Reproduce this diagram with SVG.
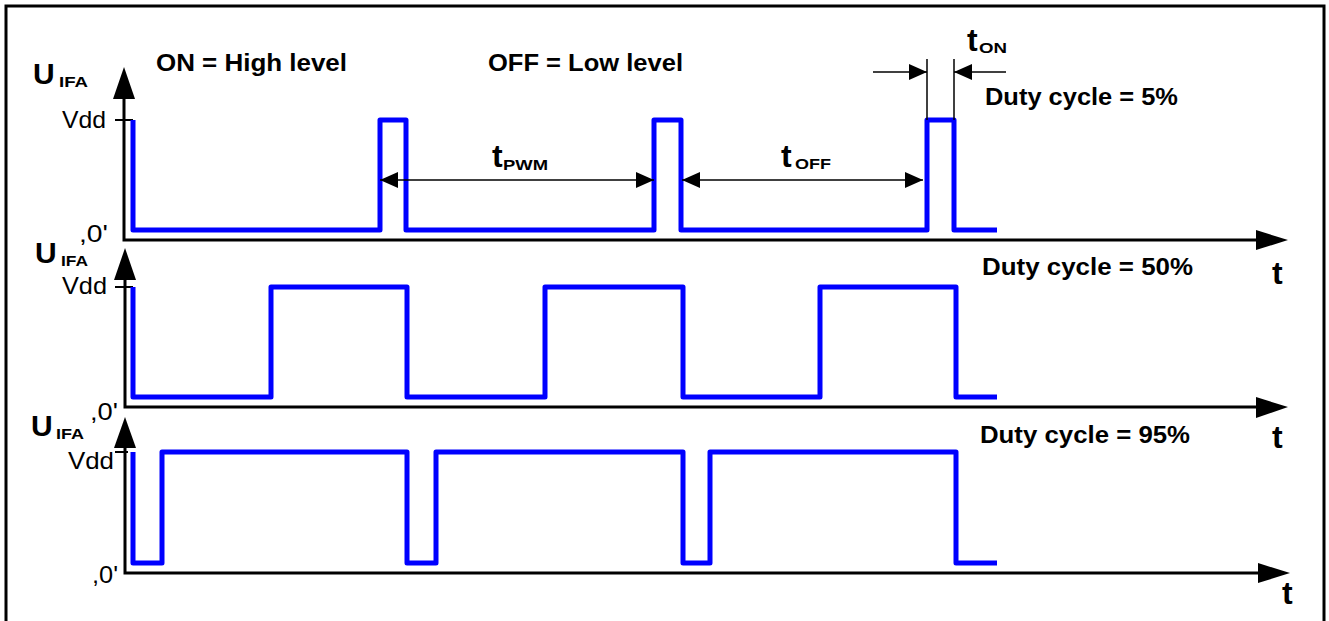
<svg xmlns="http://www.w3.org/2000/svg" width="1329" height="621" viewBox="0 0 1329 621">
<style>
text{font-family:"Liberation Sans",Arial,sans-serif;fill:#000}
.lab{font-size:24px;font-weight:bold}
.val{font-size:24px}
.u{font-size:30px;font-weight:bold}
.sub{font-size:15px;font-weight:bold}
.tt{font-size:32px;font-weight:bold}
.axis{fill:none;stroke:#000;stroke-width:3}
.head{fill:#000;stroke:none}
.tick{stroke:#000;stroke-width:2}
.wave{fill:none;stroke:#0000FF;stroke-width:5;stroke-linejoin:round}
.dim{fill:none;stroke:#000;stroke-width:1.5}
</style>
<defs>
<marker id="dh" markerUnits="userSpaceOnUse" markerWidth="18" markerHeight="16" refX="18" refY="8" orient="auto-start-reverse">
<path d="M0,0 L18,8 L0,16 z" fill="#000"/>
</marker>
</defs>
<rect x="6" y="6" width="1318" height="640" fill="#fff" stroke="#000" stroke-width="3"/>

<g id="panel1">
<g id="axes1">
<path class="axis" d="M124,99 V240 H1258"/>
<polygon class="head" points="124,67 113,99 135,99"/>
<polygon class="head" points="1288,240 1256,230 1256,250"/>
<line class="tick" x1="115" y1="120" x2="133" y2="120"/>
</g>
<path id="wave1" class="wave" d="M133,120 V230 H380 V120 H406 V230 H654 V120 H681 V230 H927 V120 H954 V230 H997"/>
<g id="labels1">
<text class="u" x="33" y="84">U</text>
<text class="sub" x="59" y="87" textLength="29" lengthAdjust="spacingAndGlyphs">IFA</text>
<text class="val" x="62" y="128" textLength="44" lengthAdjust="spacingAndGlyphs">Vdd</text>
<text class="val" x="79" y="242" textLength="29" lengthAdjust="spacingAndGlyphs">,0'</text>
<text class="lab" x="156" y="71" textLength="191" lengthAdjust="spacingAndGlyphs">ON = High level</text>
<text class="lab" x="488" y="71" textLength="195" lengthAdjust="spacingAndGlyphs">OFF = Low level</text>
<text class="lab" x="985" y="105" textLength="193" lengthAdjust="spacingAndGlyphs">Duty cycle = 5%</text>
</g>
</g>

<g id="panel2">
<g id="axes2">
<path class="axis" d="M125,280 V407 H1258"/>
<polygon class="head" points="125,248 114,280 136,280"/>
<polygon class="head" points="1288,407 1256,397 1256,418"/>
<line class="tick" x1="115" y1="287" x2="133" y2="287"/>
</g>
<path id="wave2" class="wave" d="M133,287 V397 H271 V287 H407 V397 H545 V287 H683 V397 H820 V287 H956 V397 H997"/>
<g id="labels2">
<text class="u" x="35" y="263">U</text>
<text class="sub" x="61" y="266" textLength="27" lengthAdjust="spacingAndGlyphs">IFA</text>
<text class="val" x="62" y="294" textLength="45" lengthAdjust="spacingAndGlyphs">Vdd</text>
<text class="val" x="90" y="420" textLength="28" lengthAdjust="spacingAndGlyphs">,0'</text>
<text class="lab" x="982" y="275" textLength="211" lengthAdjust="spacingAndGlyphs">Duty cycle = 50%</text>
<text class="tt" x="1272" y="284">t</text>
</g>
</g>

<g id="panel3">
<g id="axes3">
<path class="axis" d="M125,448 V573 H1260"/>
<polygon class="head" points="125,417 114,448 136,448"/>
<polygon class="head" points="1290,573 1258,563 1258,583"/>
<line class="tick" x1="115" y1="452" x2="128" y2="452"/>
</g>
<path id="wave3" class="wave" d="M133,452 V563 H162 V452 H407 V563 H436 V452 H683 V563 H710 V452 H956 V563 H997"/>
<g id="labels3">
<text class="u" x="31" y="436">U</text>
<text class="sub" x="56" y="439" textLength="28" lengthAdjust="spacingAndGlyphs">IFA</text>
<text class="val" x="68" y="469" textLength="46" lengthAdjust="spacingAndGlyphs">Vdd</text>
<text class="val" x="92" y="583" textLength="26" lengthAdjust="spacingAndGlyphs">,0'</text>
<text class="lab" x="980" y="443" textLength="210" lengthAdjust="spacingAndGlyphs">Duty cycle = 95%</text>
<text class="tt" x="1272" y="448">t</text>
<text class="tt" x="1282" y="604">t</text>
</g>
</g>

<g id="connectors">
<line class="dim" x1="380" y1="180" x2="654" y2="180" marker-start="url(#dh)" marker-end="url(#dh)"/>
<line class="dim" x1="682" y1="180" x2="923" y2="180" marker-start="url(#dh)" marker-end="url(#dh)"/>
<line class="dim" x1="873" y1="72" x2="927" y2="72" marker-end="url(#dh)"/>
<line class="dim" x1="1006" y1="72" x2="954" y2="72" marker-end="url(#dh)"/>
<line class="dim" x1="927" y1="59" x2="927" y2="120"/>
<line class="dim" x1="954" y1="59" x2="954" y2="120"/>
</g>

<g id="dimlabels">
<text class="tt" x="492" y="167">t</text>
<text class="sub" x="503" y="170" textLength="45" lengthAdjust="spacingAndGlyphs">PWM</text>
<text class="tt" x="781" y="167">t</text>
<text class="sub" x="795" y="169" textLength="36" lengthAdjust="spacingAndGlyphs">OFF</text>
<text class="tt" x="967" y="51">t</text>
<text class="sub" x="979" y="53" textLength="28" lengthAdjust="spacingAndGlyphs">ON</text>
</g>
</svg>
